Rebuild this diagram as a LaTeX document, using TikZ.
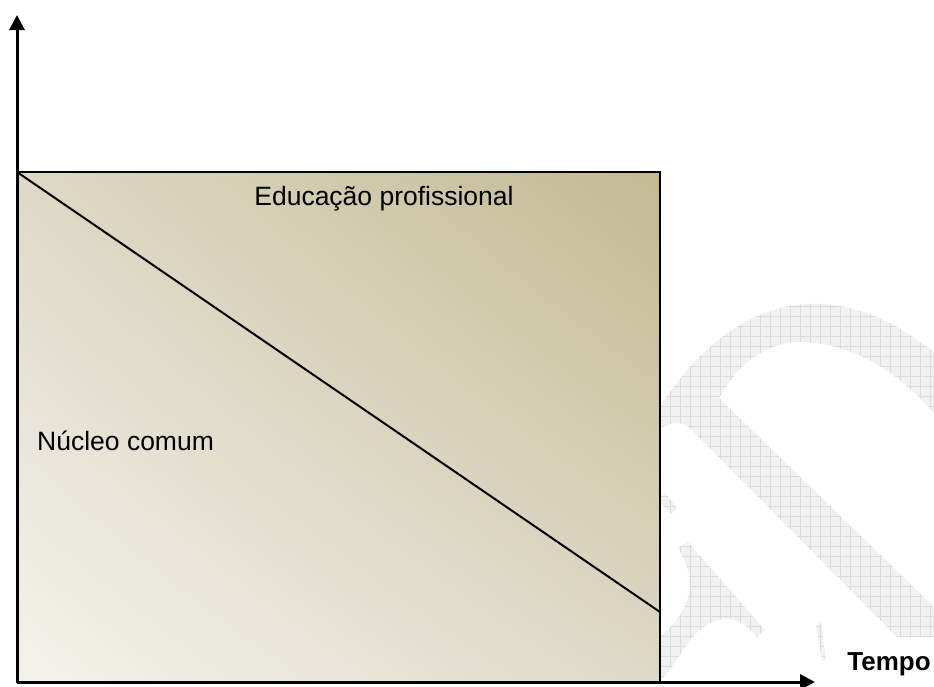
\documentclass[tikz,border=0pt]{standalone}
\usepackage{fontspec}
\setmainfont{Liberation Sans}
\usetikzlibrary{arrows.meta,patterns.meta,shadings}
\definecolor{cLL}{RGB}{244,242,236}
\definecolor{cUR}{RGB}{194,186,147}
\definecolor{cMID}{RGB}{222,217,198}
\begin{document}
\begin{tikzpicture}[x=1pt,y=-1pt,
  wmark/.style={pattern={Hatch[angle=0,distance=10pt,line width=0.5pt]},pattern color=gray!28,preaction={fill=gray!11}},
  axis/.style={line width=3pt,-{Triangle[length=15pt,width=15pt]}},
  edge/.style={line width=2pt},
  lbl/.style={inner sep=0pt,font=\fontsize{26.5}{32}\selectfont}]
\useasboundingbox (0,0) rectangle (934,686);
% watermark
\path[wmark] (655,415) .. controls (700,340) and (760,300) .. (823,304)
  .. controls (870,307) and (905,330) .. (934,352) -- (934,413)
  .. controls (900,375) and (860,345) .. (803,342)
  .. controls (770,341) and (740,360) .. (719,398)
  -- (934,607) -- (934,637) -- (897,637) -- (690,428)
  .. controls (680,420) and (670,422) .. (655,432) -- cycle;
\path[wmark] (660,637) .. controls (690,610) and (700,585) .. (678,548)
  -- (688,542) -- (765,630) -- (757,637)
  .. controls (740,615) and (715,610) .. (690,640)
  .. controls (680,655) and (670,670) .. (660,682) -- cycle;
\path[wmark] (816,626) -- (821,623) -- (826,660) -- (822,660) -- cycle;
\path[wmark] (660,494) -- (666,494) -- (677,508) -- (671,514) -- (660,502) -- cycle;
% main
\coordinate (O) at (17,682);
\coordinate (TL) at (17,172);
\coordinate (TR) at (660,172);
\coordinate (BR) at (660,682);
\coordinate (D) at (660,612);
\coordinate (Ytip) at (17,15);
\coordinate (Xtip) at (815,682);
\shade[lower left=cLL,upper right=cUR,upper left=cMID,lower right=cMID] (O) rectangle (TR);
\draw[edge] (O) -- (TL) -- (TR) -- (BR) -- cycle;
\draw[edge] (TL) -- (D);
\draw[axis] (O) -- (Ytip);
\draw[axis] (O) -- (Xtip);
\node[lbl] (edu) at (384,199) {Educação profissional};
\node[lbl,anchor=west] (nuc) at (37,441) {Núcleo comum};
\node[lbl,font=\fontsize{26}{32}\selectfont\bfseries] (tempo) at (889,664) {Tempo};
\end{tikzpicture}
\end{document}
